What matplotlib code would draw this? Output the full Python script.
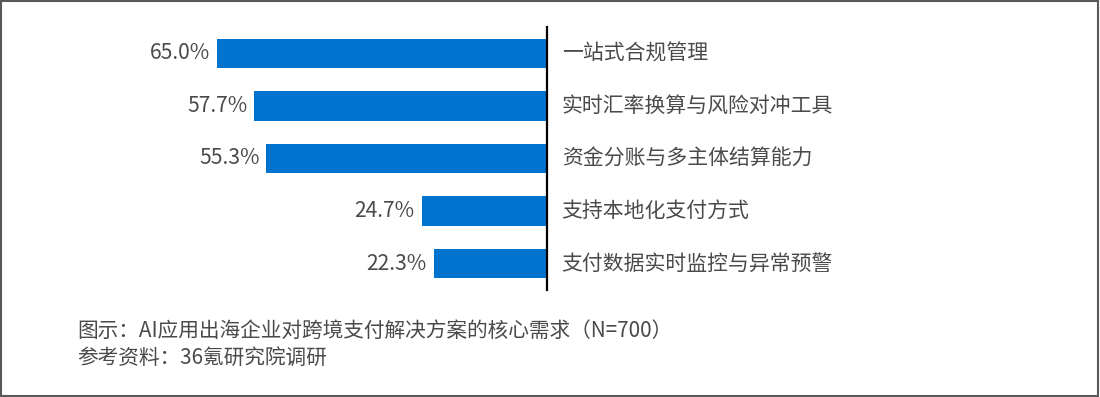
import matplotlib
matplotlib.use("Agg")
import matplotlib.pyplot as plt
from matplotlib.patches import Rectangle

plt.rcParams["font.family"] = ["Noto Sans CJK SC", "DejaVu Sans"]

categories = ["一站式合规管理", "实时汇率换算与风险对冲工具", "资金分账与多主体结算能力",
              "支持本地化支付方式", "支付数据实时监控与异常预警"]
values = [65.0, 57.7, 55.3, 24.7, 22.3]
caption = "图示：AI应用出海企业对跨境支付解决方案的核心需求（N=700）"
source = "参考资料：36氪研究院调研"

W, H = 1100, 397
fig = plt.figure(figsize=(W / 100, H / 100), dpi=100)

# axis line sits at x=547px, bars grow leftwards
ax = fig.add_axes([0, 1 - 290 / H, 547 / W, 263 / H])
ypos = list(range(len(values)))
ax.barh(ypos, values, height=0.56, color="#0073CF")
ax.set_xlim(547 / 5.075, 0)
ax.set_ylim(len(values) - 0.5, -0.5)
for s in ["top", "bottom", "left"]:
    ax.spines[s].set_visible(False)
ax.spines["right"].set_color("black")
ax.spines["right"].set_linewidth(1.6)
ax.set_xticks([])
ax.set_yticks([])
ax.patch.set_alpha(0)

txt = "#4a4a4a"
for y, v, c in zip(ypos, values, categories):
    ax.annotate(f"{v:.1f}%", (v, y), xytext=(-5, 0), textcoords="offset points",
                ha="right", va="center", fontsize=15.2, color=txt)
    ax.annotate(c, (0, y), xytext=(10.5, 0), textcoords="offset points",
                ha="left", va="center", fontsize=15, color=txt)

fig.text(77 / W, 1 - 331 / H, caption, ha="left", va="center", fontsize=14.9, color=txt)
fig.text(77 / W, 1 - 358 / H, source, ha="left", va="center", fontsize=14.9, color=txt)

fig.patches.append(Rectangle((0.001, 0.002), 0.997, 0.995, transform=fig.transFigure,
                             fill=False, edgecolor="#595959", linewidth=1.5))

fig.savefig("out.png", dpi=100)
